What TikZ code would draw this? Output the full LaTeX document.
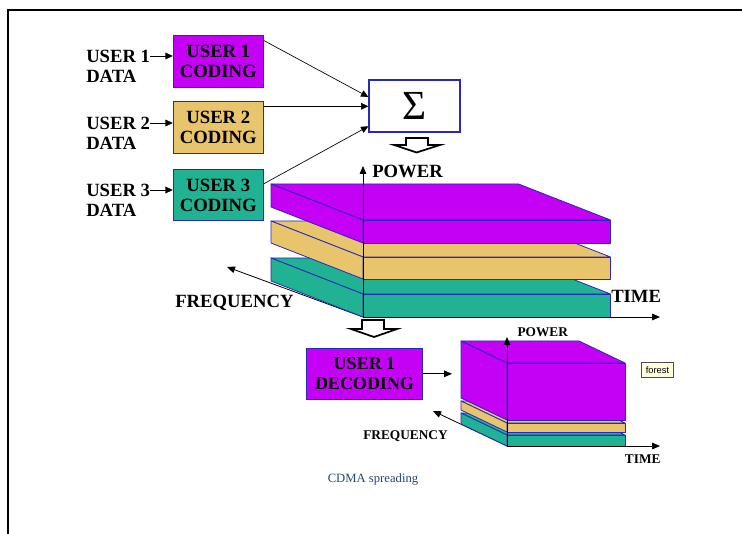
\documentclass[tikz,border=0pt]{standalone}
\usepackage{fontspec}
\setmainfont{Liberation Serif}
\newfontfamily\tagsans{Liberation Sans}
\usetikzlibrary{arrows.meta}

\definecolor{slabpurple}{RGB}{196,0,245}
\definecolor{slabyellow}{RGB}{232,196,108}
\definecolor{slabteal}{RGB}{32,178,146}
\definecolor{edgeblue}{RGB}{40,40,190}
\definecolor{captionblue}{RGB}{40,70,110}
\definecolor{tagyellow}{RGB}{255,255,222}

\tikzset{
  codebox/.style={draw=edgeblue, line width=0.8pt, minimum width=67.5pt,
    minimum height=38.5pt, align=center, inner sep=0pt,
    font=\bfseries\fontsize{14}{15}\selectfont},
  userlbl/.style={anchor=west, inner sep=0pt, font=\bfseries\fontsize{14}{15}\selectfont},
  axislbl/.style={inner sep=0pt, font=\bfseries\fontsize{14}{15}\selectfont},
  smalllbl/.style={inner sep=0pt, font=\bfseries\fontsize{10}{12}\selectfont},
  feed/.style={-{Triangle[length=5.5pt,width=5pt]}, line width=0.5pt},
  axis/.style={-{Triangle[length=6pt,width=5pt]}, line width=0.6pt},
  hollow/.style={draw, line width=1.3pt, fill=white, line join=miter},
  face/.style={draw=edgeblue, line width=0.6pt, line join=round}
}

% slab: x0, x1, top, bottom, dx, dy, colour
\newcommand\slab[7]{%
  \filldraw[face, fill=#7] (#1,#3) -- (#2,#3) -- ({#2+#5},{#3+#6}) -- ({#1+#5},{#3+#6}) -- cycle;
  \filldraw[face, fill=#7] (#1,#3) -- ({#1+#5},{#3+#6}) -- ({#1+#5},{#4+#6}) -- (#1,#4) -- cycle;
  \filldraw[face, fill=#7] (#1,#3) rectangle (#2,#4);
}

\begin{document}
\begin{tikzpicture}[x=0.75pt, y=-0.75pt]

  \useasboundingbox (0,0) rectangle (742,534);
  \draw[line width=1.5pt] (8,534) -- (8,10) -- (742,10);

  % users and coders
  \node[userlbl] (u1) at (86,56) {USER 1};
  \node[userlbl] (d1) at (86,76) {DATA};
  \node[userlbl] (u2) at (86,123) {USER 2};
  \node[userlbl] (d2) at (86,143) {DATA};
  \node[userlbl] (u3) at (86,190) {USER 3};
  \node[userlbl] (d3) at (86,210) {DATA};

  \node[codebox, fill=slabpurple] (cod1) at (218.3,61.4) {USER 1\\CODING};
  \node[codebox, fill=slabyellow] (cod2) at (218.3,127.5) {USER 2\\CODING};
  \node[codebox, fill=slabteal]   (cod3) at (218.3,195.3) {USER 3\\CODING};

  \draw[feed] (u1.east) -- (u1.east -| cod1.west);
  \draw[feed] (u2.east) -- (u2.east -| cod2.west);
  \draw[feed] (u3.east) -- (u3.east -| cod3.west);

  \node[draw=edgeblue, line width=1.2pt, fill=white, minimum width=68pt,
    minimum height=39pt, font=\fontsize{31}{31}\selectfont] (sig) at (414.5,106.3) {Σ};

  \draw[feed] ([yshift=-4pt]cod1.north east) -- ([yshift=7pt]sig.west);
  \draw[feed] (cod2.east |- sig.west) -- (sig.west);
  \draw[feed] ([yshift=-11pt]cod3.north east) -- ([yshift=-15pt]sig.west);

  \draw[hollow] (406,138) -- (428,138) -- (428,145) -- (440,145) -- (416.5,152.5)
    -- (394,145) -- (406,145) -- cycle;

  % spread signal
  \coordinate (o1) at (363,317);
  \coordinate (p1) at (363,166);
  \coordinate (t1) at (660,317);
  \coordinate (f1) at (227,267);

  \draw[axis] (o1) -- (f1);
  \slab{363}{610.5}{294}{317}{-92}{-36}{slabteal}
  \slab{363}{610.5}{257}{279}{-92}{-36}{slabyellow}
  \slab{363}{610.5}{220}{243}{-92}{-36}{slabpurple}
  \draw[axis] (o1) -- (p1);
  \draw[axis] (o1) -- (t1);

  \node[axislbl, anchor=west] (pw1) at (372,171) {POWER};
  \node[axislbl, anchor=west] (tm1) at (611,296) {TIME};
  \node[axislbl, anchor=west] (fq1) at (175,302.5) {FREQUENCY};

  \draw[hollow] (362,320) -- (384,320) -- (384,329) -- (397,329) -- (374,337)
    -- (351,329) -- (362,329) -- cycle;

  % despread signal
  \node[codebox, fill=slabpurple, minimum width=86.7pt,
    font=\bfseries\fontsize{13.5}{15}\selectfont] (dec) at (364.5,373.8) {USER 1\\DECODING};
  \coordinate (decout) at (452,373.8);
  \draw[axis] (dec.east) -- (decout);

  \coordinate (o2) at (507,446);
  \coordinate (p2) at (507,337);
  \coordinate (t2) at (660,446);
  \coordinate (f2) at (433,411);

  \draw[axis] (o2) -- (f2);
  \slab{507}{625}{435}{446}{-46}{-22}{slabteal}
  \slab{507}{625}{423}{432}{-46}{-22}{slabyellow}
  \slab{507}{625}{363}{420}{-46}{-22}{slabpurple}
  \draw[axis] (o2) -- (p2);
  \draw[axis] (o2) -- (t2);

  \node[smalllbl] (pw2) at (542.7,332) {POWER};
  \node[smalllbl, anchor=west] (fq2) at (363,436) {FREQUENCY};
  \node[smalllbl] (tm2) at (642.7,459) {TIME};

  \node[draw=black!70, line width=0.5pt, fill=tagyellow, inner sep=0pt,
    minimum width=23.7pt, minimum height=11.5pt,
    font=\tagsans\fontsize{7}{8}\selectfont] (tag) at (657.5,370) {forest};

  \node[font=\fontsize{9.5}{11}\selectfont, text=captionblue] (cap) at (373,479) {CDMA spreading};

\end{tikzpicture}
\end{document}
